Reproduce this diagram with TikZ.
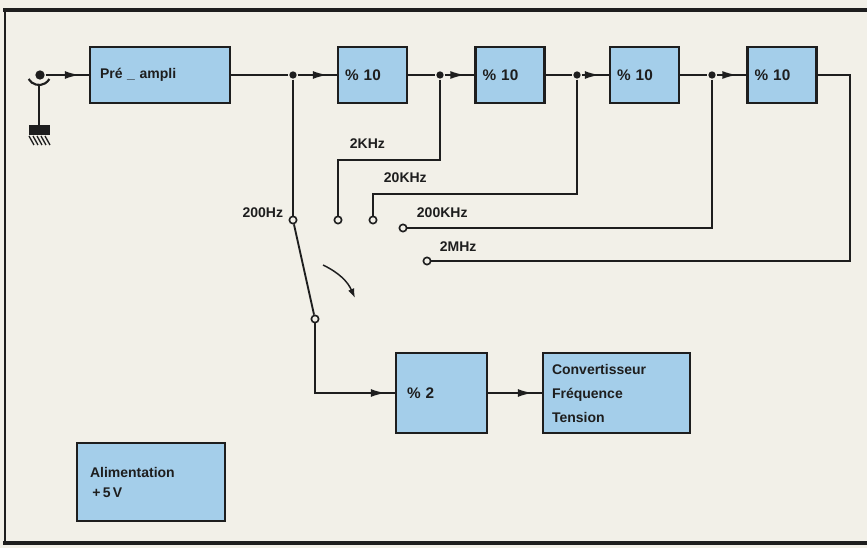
\documentclass[tikz,border=0pt]{standalone}
\usepackage{fontspec}
\setmainfont{Liberation Sans}
\usetikzlibrary{arrows.meta,decorations.markings}
\definecolor{paper}{HTML}{F2F0E8}
\definecolor{boxblue}{HTML}{A4CEEA}
\definecolor{ink}{HTML}{1E1E1E}
\begin{document}
\begin{tikzpicture}[x=0.75pt,y=-0.75pt,color=ink,line width=1.4pt,
  lab/.style={font=\bfseries\fontsize{10.5}{12}\selectfont},
  box/.style={draw=ink,fill=boxblue,line width=1.8pt,rectangle,align=left,
              font=\bfseries\fontsize{10.5}{12}\selectfont,minimum height=42pt},
  divbox/.style={box,text width=41.25pt,inner xsep=5.25pt,font=\bfseries\fontsize{11.5}{12}\selectfont},
  arr/.style={postaction={decorate},decoration={markings,
              mark=at position -7pt with {\arrow{Latex[length=11pt,width=6pt]}}}},
  jdot/.style={circle,fill=ink,inner sep=0pt,minimum size=5.5pt},
  term/.style={circle,draw=ink,fill=paper,line width=1.2pt,inner sep=0pt,minimum size=5.5pt}]
\useasboundingbox (0,0) rectangle (867,548);
\fill[paper] (0,0) rectangle (867,548);
% frame
\draw[line width=3pt] (867,10) -- (3,10);
\draw[line width=1.8pt] (5,10) -- (5,543);
\draw[line width=3pt] (3,543) -- (867,543);
% blocks
\node[box,text width=90pt,inner xsep=7.5pt] (pre) at (160,75) {Pré \_ ampli};
\node[divbox] (d1) at (372.5,75) {\% 10};
\node[divbox] (d2) at (510,75) {\% 10};
\node[divbox] (d3) at (644.5,75) {\% 10};
\node[divbox] (d4) at (782,75) {\% 10};
\node[box,text width=51.75pt,inner xsep=8.25pt,minimum height=60pt,
      font=\bfseries\fontsize{11.5}{12}\selectfont] (div2) at (441.5,393) {\% 2};
\node[box,text width=96.75pt,inner xsep=6.75pt,minimum height=60pt,
      font=\bfseries\fontsize{10.5}{18}\selectfont] (conv) at (616.5,393) {Convertisseur\\Fréquence\\Tension};
\node[box,text width=91.5pt,inner xsep=9.75pt,minimum height=58.5pt,
      font=\bfseries\fontsize{10.5}{15}\selectfont] (alim) at (151,482) {Alimentation\\\,+\,5\,V};
% input and ground
\node[circle,fill=ink,inner sep=0pt,minimum size=7pt] (in) at (40,75) {};
\draw[line width=1.6pt] (28.6,79) arc[start angle=150,end angle=30,radius=12];
\draw (39,85) -- (39,125);
\fill[ink] (29,125) rectangle (50,135);
\foreach \k in {0,4,8,12,16} \draw[line width=1pt] (29+\k,136) -- (34+\k,145);
% junctions
\node[jdot] (j1) at (293,75) {};
\node[jdot] (j2) at (440,75) {};
\node[jdot] (j3) at (577,75) {};
\node[jdot] (j4) at (712,75) {};
% terminals
\node[term] (t200) at (293,220) {};
\node[term] (t2k) at (338,220) {};
\node[term] (t20k) at (373,220) {};
\node[term] (t200k) at (403,228) {};
\node[term] (t2m) at (427,261) {};
\node[term] (piv) at (315,319) {};
\coordinate (b2) at (440,160);
\coordinate (b3) at (577,194);
\coordinate (b4) at (850,75);
\coordinate (ca) at (323,265);
\coordinate (cb) at (355,298);
% main chain
\draw[arr] (in) -- (pre);
\draw (pre) -- (j1);
\draw[arr] (j1) -- (d1);
\draw (d1) -- (j2);
\draw[arr] (j2) -- (d2);
\draw (d2) -- (j3);
\draw[arr] (j3) -- (d3);
\draw (d3) -- (j4);
\draw[arr] (j4) -- (d4);
% branches
\draw (j1) -- (t200);
\draw (j2) -- (b2) -| (t2k);
\draw (j3) -- (b3) -| (t20k);
\draw (j4) |- (t200k);
\draw (d4) -- (b4) |- (t2m);
% switch
\draw (t200) -- (piv);
\draw[line width=1.1pt,-{Latex[length=7pt,width=5pt]}] (ca) to[bend left=20] (cb);
\draw[arr] (piv) |- (div2);
\draw[arr] (div2) -- (conv);
% labels
\node[lab,anchor=east,inner sep=0pt] (l200) at (284,213) {200Hz};
\node[lab,anchor=west,inner sep=0pt] (l2k) at (349,144) {2KHz};
\node[lab,anchor=west,inner sep=0pt] (l20k) at (383,178) {20KHz};
\node[lab,anchor=west,inner sep=0pt] (l200k) at (416,213) {200KHz};
\node[lab,anchor=west,inner sep=0pt] (l2m) at (439,247) {2MHz};
\end{tikzpicture}
\end{document}
